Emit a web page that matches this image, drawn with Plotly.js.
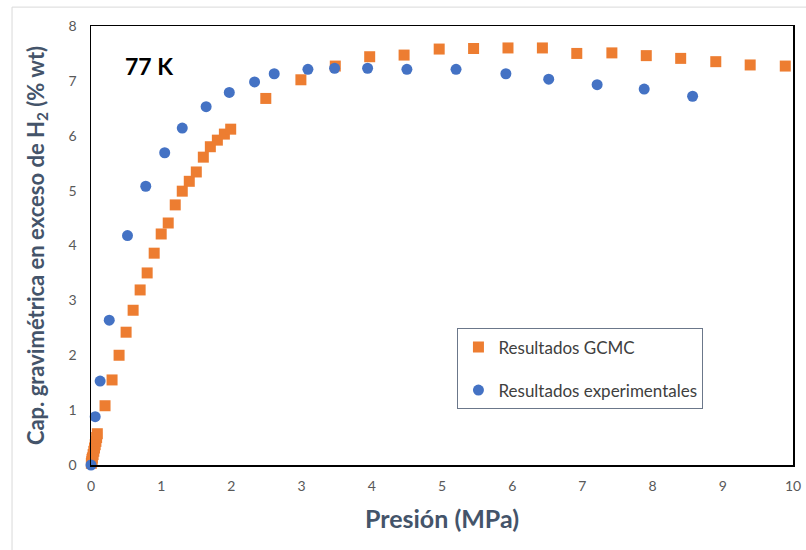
<!DOCTYPE html>
<html>
<head>
<meta charset="utf-8">
<script src="https://cdn.plot.ly/plotly-3.0.1.min.js"></script>
<style>
  html, body { margin: 0; padding: 0; background: #ffffff; }
  #chart { width: 806px; height: 550px; }
</style>
</head>
<body>
<div id="chart"></div>
<script>
// GCMC simulation results (orange squares)
var gcmcPressure = [0.005, 0.01, 0.015, 0.02, 0.03, 0.04, 0.05, 0.06, 0.07, 0.08, 0.09,
  0.2, 0.3, 0.4, 0.5, 0.6, 0.7, 0.8, 0.9, 1.0, 1.1, 1.2, 1.3, 1.4, 1.5, 1.6, 1.7, 1.8, 1.9, 1.99,
  2.49, 2.99, 3.48, 3.97, 4.46, 4.96, 5.45, 5.94, 6.43, 6.92, 7.42, 7.91, 8.40, 8.90, 9.39, 9.89];
var gcmcCapacity = [0.03, 0.06, 0.10, 0.13, 0.19, 0.25, 0.31, 0.37, 0.43, 0.50, 0.57,
  1.08, 1.55, 2.00, 2.42, 2.82, 3.19, 3.50, 3.86, 4.21, 4.41, 4.74, 4.99, 5.17, 5.34, 5.61, 5.80, 5.92, 6.03, 6.12,
  6.68, 7.02, 7.27, 7.44, 7.47, 7.58, 7.59, 7.60, 7.60, 7.50, 7.51, 7.46, 7.41, 7.35, 7.29, 7.27];

// Experimental results (blue circles)
var expPressure = [0.0, 0.06, 0.13, 0.26, 0.52, 0.78, 1.05, 1.30, 1.64, 1.97, 2.33, 2.61,
  3.09, 3.47, 3.94, 4.50, 5.20, 5.91, 6.52, 7.21, 7.88, 8.57];
var expCapacity = [0.0, 0.88, 1.53, 2.64, 4.18, 5.08, 5.69, 6.14, 6.53, 6.79, 6.98, 7.13,
  7.21, 7.23, 7.23, 7.21, 7.21, 7.13, 7.03, 6.93, 6.85, 6.72];

var seriesNames = ["Resultados GCMC", "Resultados experimentales"];
var xTicks = [0, 1, 2, 3, 4, 5, 6, 7, 8, 9, 10];
var yTicks = [0, 1, 2, 3, 4, 5, 6, 7, 8];

var FONT = "Lato, 'Open Sans', 'DejaVu Sans', sans-serif";

var traces = [
  {
    x: gcmcPressure, y: gcmcCapacity, name: seriesNames[0],
    type: "scatter", mode: "markers", legendgroup: "a",
    marker: { symbol: "square", size: 11, color: "#ED7D31" },
    cliponaxis: false
  },
  {
    x: expPressure, y: expCapacity, name: seriesNames[1],
    type: "scatter", mode: "markers", legendgroup: "b",
    marker: { symbol: "circle", size: 11, color: "#4472C4" },
    cliponaxis: false
  }
];

var layout = {
  width: 806, height: 550,
  margin: { l: 91, r: 13, t: 26, b: 85 },
  paper_bgcolor: "#ffffff", plot_bgcolor: "#ffffff",
  font: { family: FONT, color: "#595959" },
  showlegend: true,
  legend: {
    x: 0.522, y: 0.311, xanchor: "left", yanchor: "top",
    bordercolor: "#6b778a", borderwidth: 1, bgcolor: "#ffffff",
    font: { family: FONT, size: 17, color: "#404040" },
    tracegroupgap: 18,
    itemwidth: 30
  },
  xaxis: {
    range: [0, 10], tickvals: xTicks, ticktext: xTicks.map(String),
    showgrid: false, zeroline: false,
    showline: true, linecolor: "#000000", linewidth: 1.5, mirror: true,
    ticks: "", ticklabelstandoff: 8,
    tickfont: { family: FONT, size: 14, color: "#595959" },
    title: { text: "Presión (MPa)", standoff: 17,
      font: { family: FONT, size: 25, color: "#44546A", weight: "bold" } }
  },
  yaxis: {
    range: [0, 8], tickvals: yTicks, ticktext: yTicks.map(String),
    showgrid: false, zeroline: false,
    showline: true, linecolor: "#000000", linewidth: 1.5, mirror: true,
    ticks: "", ticklabelstandoff: 10,
    tickfont: { family: FONT, size: 14, color: "#595959" },
    title: { text: "Cap. gravimétrica en exceso de H<sub>2</sub> (% wt)", standoff: 18,
      font: { family: FONT, size: 22, color: "#44546A", weight: "bold" } }
  },
  annotations: [
    { xref: "paper", yref: "paper", x: 0.046, y: 0.91, xanchor: "left", yanchor: "middle",
      text: "<b>77 K</b>", showarrow: false,
      font: { family: FONT, size: 23, color: "#000000" } }
  ],
  shapes: [
    { type: "rect", xref: "paper", yref: "paper", layer: "below",
      x0: -0.1125, x1: 1.03, y0: -0.23, y1: 1.043,
      line: { color: "#d9d9d9", width: 1 }, fillcolor: "rgba(0,0,0,0)" }
  ]
};

Plotly.newPlot("chart", traces, layout, { displayModeBar: false, staticPlot: true });
</script>
</body>
</html>
